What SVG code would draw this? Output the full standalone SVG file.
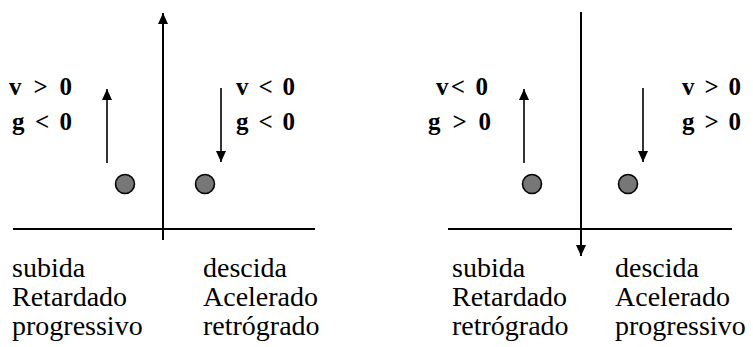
<svg xmlns="http://www.w3.org/2000/svg" width="753" height="347" viewBox="0 0 753 347" font-family="Liberation Serif, Times New Roman, serif">
<style>
.ax{stroke:#000;stroke-width:2;fill:none}
.ar{stroke:#000;stroke-width:1.6;fill:none}
.ball{fill:#777;stroke:#000;stroke-width:1.6}
.lbl{font-weight:bold;font-size:25px;fill:#000}
.txt{font-size:28px;fill:#000}
</style>
<defs>
<marker id="ah" markerUnits="userSpaceOnUse" markerWidth="12" markerHeight="12" viewBox="0 0 12 12" refX="11" refY="6" orient="auto">
<path d="M0,1 L11,6 L0,11 Z" fill="#000"/>
</marker>
</defs>
<g id="connectors">
<line class="ax" x1="163" y1="240" x2="163" y2="13" marker-end="url(#ah)"/>
<line class="ax" x1="13" y1="229" x2="315" y2="229"/>
<line class="ar" x1="107" y1="163" x2="107" y2="89" marker-end="url(#ah)"/>
<line class="ar" x1="221" y1="88" x2="221" y2="162" marker-end="url(#ah)"/>
<line class="ax" x1="581" y1="12" x2="581" y2="256" marker-end="url(#ah)"/>
<line class="ax" x1="448" y1="229" x2="732" y2="229"/>
<line class="ar" x1="524" y1="163" x2="524" y2="89" marker-end="url(#ah)"/>
<line class="ar" x1="643" y1="88" x2="643" y2="162" marker-end="url(#ah)"/>
</g>
<g id="left-diagram" font-family="Liberation Serif, serif">
<g id="ball-l1"><circle class="ball" cx="125" cy="184" r="9.5"/></g>
<g id="ball-l2"><circle class="ball" cx="205" cy="184" r="9.5"/></g>
<g id="lbl-l1">
<text class="lbl" x="9" y="95" textLength="63" lengthAdjust="spacing">v &gt; 0</text>
<text class="lbl" x="12" y="130" textLength="60" lengthAdjust="spacing">g &lt; 0</text>
</g>
<g id="lbl-l2">
<text class="lbl" x="236" y="95" textLength="59" lengthAdjust="spacing">v &lt; 0</text>
<text class="lbl" x="236" y="130" textLength="59" lengthAdjust="spacing">g &lt; 0</text>
</g>
<g id="txt-l1">
<text class="txt" x="12" y="277">subida</text>
<text class="txt" x="12" y="306">Retardado</text>
<text class="txt" x="12" y="335">progressivo</text>
</g>
<g id="txt-l2">
<text class="txt" x="203" y="277">descida</text>
<text class="txt" x="203" y="306">Acelerado</text>
<text class="txt" x="203" y="335">retrógrado</text>
</g>
</g>
<g id="right-diagram" font-family="Liberation Serif, serif">
<g id="ball-r1"><circle class="ball" cx="532" cy="184" r="9.5"/></g>
<g id="ball-r2"><circle class="ball" cx="628" cy="184" r="9.5"/></g>
<g id="lbl-r1">
<text class="lbl" x="436" y="95" textLength="52" lengthAdjust="spacing">v&lt; 0</text>
<text class="lbl" x="428" y="130" textLength="63" lengthAdjust="spacing">g &gt; 0</text>
</g>
<g id="lbl-r2">
<text class="lbl" x="682" y="95" textLength="59" lengthAdjust="spacing">v &gt; 0</text>
<text class="lbl" x="682" y="130" textLength="59" lengthAdjust="spacing">g &gt; 0</text>
</g>
<g id="txt-r1">
<text class="txt" x="452" y="277">subida</text>
<text class="txt" x="452" y="306">Retardado</text>
<text class="txt" x="452" y="335">retrógrado</text>
</g>
<g id="txt-r2">
<text class="txt" x="615" y="277">descida</text>
<text class="txt" x="615" y="306">Acelerado</text>
<text class="txt" x="615" y="335">progressivo</text>
</g>
</g>
</svg>
